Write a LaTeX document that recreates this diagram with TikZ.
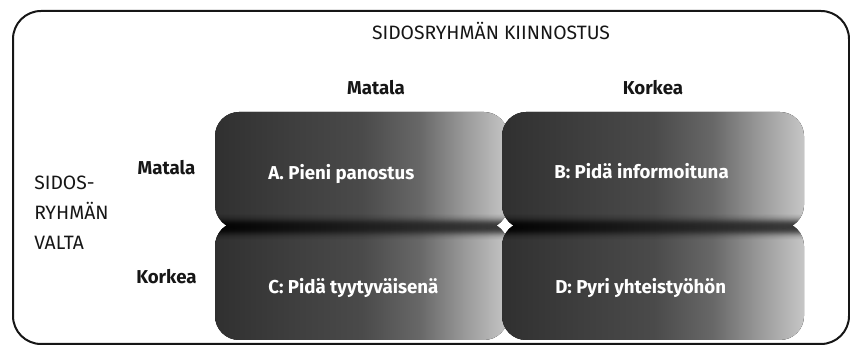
\documentclass[tikz,border=0pt]{standalone}
\usepackage{fontspec}
\setmainfont{Fira Sans}

% palette
\definecolor{ink}{HTML}{161616}
\definecolor{qa}{HTML}{303030}
\definecolor{qb}{HTML}{3e3e3e}
\definecolor{qc}{HTML}{4a4a4a}
\definecolor{qd}{HTML}{686868}
\definecolor{qe}{HTML}{9c9c9c}
\definecolor{qf}{HTML}{c6c6c6}

% left-to-right grey ramp of the quadrant boxes (inner 25bp..75bp span the box)
\pgfdeclarehorizontalshading{quadshade}{100bp}{color(0bp)=(qa); color(25bp)=(qa); color(38bp)=(qb); color(50bp)=(qc); color(60bp)=(qd); color(68bp)=(qe); color(75bp)=(qf); color(100bp)=(qf)}

\tikzset{
  frame/.style={draw=ink, line width=1.5pt, rounded corners=21pt},
  quad/.style={shading=quadshade, rounded corners=18pt},
  heading/.style={font=\fontsize{14.5}{17}\selectfont, text=ink, inner sep=0pt},
  axislabel/.style={font=\fontsize{14}{17}\selectfont\bfseries, text=ink, inner sep=0pt},
  sidelabel/.style={font=\fontsize{14.5}{17}\selectfont, text=ink, inner sep=0pt, anchor=base west},
  quadtext/.style={font=\fontsize{14}{17}\selectfont\bfseries, text=white, inner sep=0pt, anchor=base west},
}

% soft dark seam between the two rows of a column, built from thin strips
\newcommand{\rowseam}[2]{%
  \foreach \d in {-12,...,12}{%
    \pgfmathsetmacro\seamop{0.82*exp(-(\d/6.5)^2)}%
    \shade[left color=black, right color=black!78, opacity=\seamop]
      (#1,{227+\d-0.5}) rectangle (#2,{227+\d+0.5});
  }%
}

\begin{document}
\begin{tikzpicture}[x=0.75pt, y=-0.75pt]
  \useasboundingbox (0,0) rectangle (850,345);

  % outer frame
  \draw[frame] (13,11) rectangle (849,344);

  % headings
  \node[heading, anchor=base] (title) at (491,40) {SIDOSRYHMÄN KIINNOSTUS};
  \node[axislabel, anchor=base] (colLow) at (376,94.5) {Matala};
  \node[axislabel, anchor=base] (colHigh) at (653,94.5) {Korkea};
  \node[axislabel, anchor=base] (rowLow) at (166.5,174.5) {Matala};
  \node[axislabel, anchor=base] (rowHigh) at (166.5,283.5) {Korkea};
  \node[sidelabel] (side1) at (34,190) {SIDOS-};
  \node[sidelabel] (side2) at (34,220) {RYHMÄN};
  \node[sidelabel] (side3) at (34,250) {VALTA};

  % left column: low interest
  \fill[quad] (215,222) rectangle (508,340);
  \fill[quad] (215,112) rectangle (508,229);
  \begin{scope}
    \clip[rounded corners=18pt] (215,112) rectangle (508,229) (215,222) rectangle (508,340);
    \rowseam{210}{512}
  \end{scope}

  % right column: high interest
  \fill[quad] (502,222) rectangle (804,340);
  \fill[quad] (502,112) rectangle (804,229);
  \begin{scope}
    \clip[rounded corners=18pt] (502,112) rectangle (804,229) (502,222) rectangle (804,340);
    \rowseam{497}{809}
  \end{scope}

  % quadrant texts
  \node[quadtext] (qA) at (268,179.5) {A. Pieni panostus};
  \node[quadtext] (qB) at (554,179) {B: Pidä informoituna};
  \node[quadtext] (qC) at (268,293.5) {C: Pidä tyytyväisenä};
  \node[quadtext] (qD) at (555,293.5) {D: Pyri yhteistyöhön};
\end{tikzpicture}
\end{document}
